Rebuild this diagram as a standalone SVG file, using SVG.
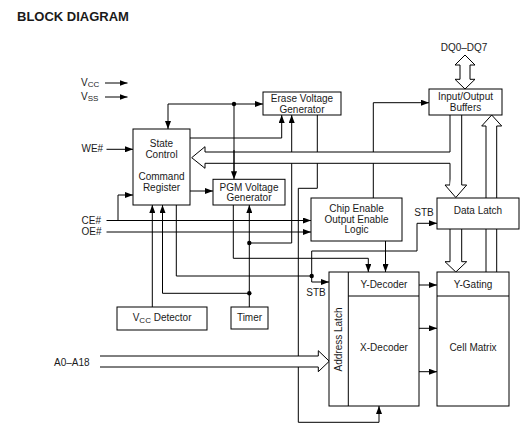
<svg xmlns="http://www.w3.org/2000/svg" width="525" height="435" viewBox="0 0 525 435">
<style>
text{font-family:"Liberation Sans",Arial,sans-serif;font-size:10px;fill:#1a1a1a}
.m{text-anchor:middle}
.sub{font-size:8px}
.box{fill:#fff;stroke:#000;stroke-width:1}
.ln{fill:none;stroke:#000;stroke-width:1}
.ar{fill:none;stroke:#000;stroke-width:1;marker-end:url(#ah)}
.bus{fill:#fff;stroke:#000;stroke-width:1}
.dot{fill:#000}
</style>
<defs>
<marker id="ah" viewBox="0 0 8 6" refX="8" refY="3" markerWidth="8" markerHeight="6" orient="auto" markerUnits="userSpaceOnUse"><path d="M0,0 L8,3 L0,6 z" fill="#000"/></marker>
</defs>
<rect width="525" height="435" fill="#fff"/>
<text x="17" y="21" style="font-size:13px;font-weight:bold">BLOCK DIAGRAM</text>

<g id="pins">
<text x="81" y="85.5">V<tspan class="sub" dy="1.5">CC</tspan></text>
<text x="81" y="99.5">V<tspan class="sub" dy="1.5">SS</tspan></text>
<text x="81.5" y="152">WE#</text>
<text x="81.5" y="223.5">CE#</text>
<text x="81.5" y="235">OE#</text>
<text x="54" y="366">A0–A18</text>
<text x="464" y="51" class="m">DQ0–DQ7</text>
<text x="424" y="216" class="m">STB</text>
<text x="316" y="296" class="m">STB</text>
</g>

<g id="connectors">
<path class="ar" d="M105,83 H127.5"/>
<path class="ar" d="M105,97 H127.5"/>
<path class="ar" d="M106.5,149.3 H133"/>
<path class="ar" d="M106.5,220.5 H311"/>
<path class="ar" d="M118,220.5 V195 H133"/>
<path class="ar" d="M106.5,232 H311"/>
<path class="ar" d="M234,104 H168 V129"/>
<path class="ar" d="M234,104 H263"/>
<path class="ar" d="M190,138 H281.7 V115"/>
<path class="ar" d="M249.3,243 H291.7 V115"/>
<path class="ar" d="M190,191 H213"/>
<path class="ar" d="M233.3,205 V258.3 H368.3 V272"/>
<path class="ar" d="M385.5,241 V272"/>
<path class="ar" d="M373.3,198 V102.7 H429"/>
<path class="ar" d="M317.3,115 V188.3 H298.3 V422.3 H379 V406"/>
<path class="ar" d="M249.3,307 V205"/>
<path class="ar" d="M249.3,293.3 H162.5 V205"/>
<path class="ar" d="M152.3,307 V205"/>
<path class="ar" d="M176.3,205 V276 H311.7 V282 H329"/>
<path class="ar" d="M311.7,276 V251 H417 V223.3 H437"/>
<path class="ar" d="M419,285 H437"/>
<path class="ar" d="M419,328.3 H437"/>
<path class="ar" d="M419,371.7 H437"/>
<circle class="dot" cx="234" cy="104" r="2.2"/>
<circle class="dot" cx="249.3" cy="243" r="2.2"/>
<circle class="dot" cx="249.3" cy="293.3" r="2.2"/>
<circle class="dot" cx="311.7" cy="276" r="2.2"/>
<!-- internal data bus to state control / data latch -->
<polygon points="205,152 450,152 450,115 462,115 462,185 450,185 450,163.3 205,163.3" fill="#fff"/>
<path class="bus" d="M205,152 V146.7 L191.7,157.7 L205,168.3 V163.3"/>
<path class="ln" d="M205,152 H450 V115"/>
<path class="ln" d="M205,163.3 H450 V185"/>
<path class="bus" d="M450,185 H445 L455.8,197.5 L466.7,185 H461.7 V115"/>
<path class="ln" d="M234,104 V172"/>
<path class="ar" d="M234,150 V179.3"/>
<!-- DQ bus -->
<path class="bus" d="M460,65 H455 L465,55 L475,65 H470 V79.3 H475 L465,89 L455,79.3 H460 Z"/>
<!-- data latch to Y-gating -->
<path class="bus" d="M450,229 V261.7 H445 L455.8,272 L466.7,261.7 H461.7 V229"/>
<!-- Y-gating to IO buffers -->
<path class="bus" d="M486,272 V126 H481.7 L491.7,115 L501.7,126 H496.7 V272"/>
<!-- address bus -->
<path class="bus" d="M100,356 H318.3 V350.7 L329.3,361.2 L318.3,371.7 V367 H100"/>
</g>

<g id="state-control">
<rect class="box" x="133" y="129" width="57" height="76"/>
<text class="m" x="161.5" y="147">State</text>
<text class="m" x="161.5" y="157.5">Control</text>
<text class="m" x="161.5" y="180">Command</text>
<text class="m" x="161.5" y="191">Register</text>
</g>
<g id="erase-voltage-generator">
<rect class="box" x="263" y="92" width="78" height="23"/>
<text class="m" x="302" y="102">Erase Voltage</text>
<text class="m" x="302" y="112.5">Generator</text>
</g>
<g id="pgm-voltage-generator">
<rect class="box" x="213" y="179.3" width="72" height="25.7"/>
<text class="m" x="249" y="190.5">PGM Voltage</text>
<text class="m" x="249" y="200.5">Generator</text>
</g>
<g id="ce-oe-logic">
<rect class="box" x="311" y="198" width="91" height="43"/>
<text class="m" x="356.5" y="211.5">Chip Enable</text>
<text class="m" x="356.5" y="222.5">Output Enable</text>
<text class="m" x="356.5" y="233">Logic</text>
</g>
<g id="io-buffers">
<rect class="box" x="429" y="89" width="73" height="26"/>
<text class="m" x="465.5" y="100">Input/Output</text>
<text class="m" x="465.5" y="110.7">Buffers</text>
</g>
<g id="data-latch">
<rect class="box" x="437" y="198" width="82" height="31"/>
<text class="m" x="478" y="214">Data Latch</text>
</g>
<g id="decoders">
<rect class="box" x="329" y="272" width="90" height="134"/>
<path class="ln" d="M348.3,272 V406 M348.3,296 H419"/>
<text class="m" transform="translate(342,339.5) rotate(-90)">Address Latch</text>
<text class="m" x="384" y="287.5">Y-Decoder</text>
<text class="m" x="384" y="351">X-Decoder</text>
</g>
<g id="cell-matrix">
<rect class="box" x="437" y="272" width="72" height="134"/>
<path class="ln" d="M437,296 H509"/>
<text class="m" x="473" y="288">Y-Gating</text>
<text class="m" x="473" y="351">Cell Matrix</text>
</g>
<g id="vcc-detector">
<rect class="box" x="117" y="307" width="90" height="23"/>
<text x="132.7" y="321">V<tspan class="sub" dy="1.5">CC</tspan><tspan dy="-1.5"> Detector</tspan></text>
</g>
<g id="timer">
<rect class="box" x="231" y="307" width="37" height="22"/>
<text class="m" x="249.5" y="321">Timer</text>
</g>
</svg>
